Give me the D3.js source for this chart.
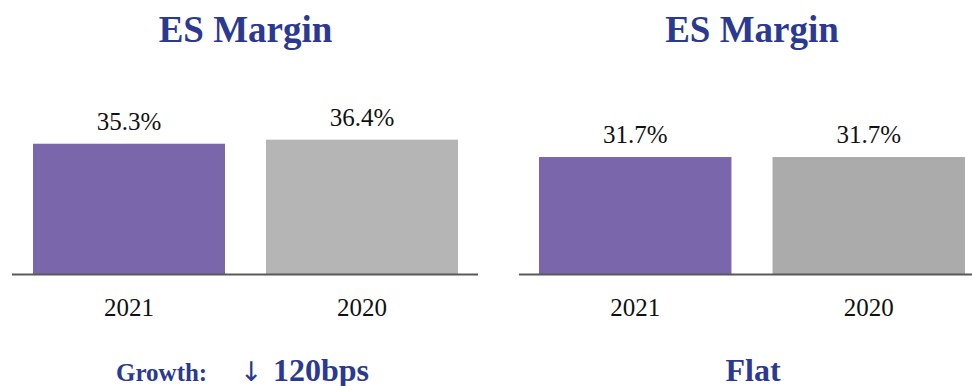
<!DOCTYPE html>
<html>
<head>
<meta charset="utf-8">
<script src="https://cdn.jsdelivr.net/npm/d3@7"></script>
<style>
  body { margin: 0; background: #fff; }
  svg { display: block; }
</style>
</head>
<body>
<svg id="chart" width="972" height="386"></svg>
<script>
// data
const panelTitles = ['ES Margin', 'ES Margin'];
const categories = ['2021', '2020'];
const leftValues = [35.3, 36.4];
const rightValues = [31.7, 31.7];
const footers = ['Growth:', 'Flat'];
const footerArrow = '\u2193';
const footerChange = '120bps';

const TITLE_COLOR = '#2b3990';
const PURPLE = '#7a67ab';
const FONT = 'Liberation Serif';

let svg = d3.select('#chart');

// shared y scale, both panels sit on the same baseline
let y = d3.scaleLinear().domain([0, 40]).range([274, 126.4]);

let panels = [
  { x0: 12, x1: 478, values: leftValues, colors: [PURPLE, '#b5b5b5'], title: panelTitles[0], cx: 245.5 },
  { x0: 519, x1: 972, values: rightValues, colors: [PURPLE, '#ababab'], title: panelTitles[1], cx: 752 }
];

function addText(sel, size, bold, fill) {
  return sel.style('font-family', FONT)
    .attr('font-size', size)
    .attr('font-weight', bold ? 'bold' : 'normal')
    .attr('fill', fill);
}

panels.forEach((p, i) => {
  let g = svg.append('g');

  // inner band scale, bars span roughly 33..458 in the left panel
  let pad = i === 0 ? 21 : 20;
  let x = d3.scaleBand()
    .domain(categories)
    .range([p.x0 + pad, p.x1 - (i === 0 ? 20 : 7)])
    .paddingInner(0.176)
    .paddingOuter(0);

  g.selectAll('rect')
    .data(p.values)
    .join('rect')
    .attr('x', (d, j) => x(categories[j]))
    .attr('y', d => y(d))
    .attr('width', x.bandwidth())
    .attr('height', d => y(0) - y(d))
    .attr('fill', (d, j) => p.colors[j]);

  // value labels
  g.selectAll('text.val')
    .data(p.values)
    .join('text')
    .attr('class', 'val')
    .attr('x', (d, j) => x(categories[j]) + x.bandwidth() / 2)
    .attr('y', d => y(d) - 14)
    .attr('text-anchor', 'middle')
    .call(addText, 25, false, '#111')
    .text(d => d.toFixed(1) + '%');

  // baseline
  g.append('line')
    .attr('x1', p.x0).attr('x2', p.x1)
    .attr('y1', y(0) + 0.5).attr('y2', y(0) + 0.5)
    .attr('stroke', '#595959')
    .attr('stroke-width', 2);

  // category labels
  g.selectAll('text.cat')
    .data(categories)
    .join('text')
    .attr('class', 'cat')
    .attr('x', d => x(d) + x.bandwidth() / 2)
    .attr('y', 316)
    .attr('text-anchor', 'middle')
    .call(addText, 25, false, '#111')
    .text(d => d);

  // title
  g.append('text')
    .attr('x', p.cx)
    .attr('y', 42)
    .attr('text-anchor', 'middle')
    .call(addText, 37, true, TITLE_COLOR)
    .text(p.title);
});

// footer notes
svg.append('text')
  .attr('x', 116).attr('y', 381)
  .call(addText, 25, true, TITLE_COLOR)
  .text(footers[0]);

svg.append('text')
  .attr('x', 240).attr('y', 381)
  .style('font-family', 'DejaVu Sans')
  .attr('font-size', 27)
  .attr('fill', TITLE_COLOR)
  .text(footerArrow);

svg.append('text')
  .attr('x', 273).attr('y', 381)
  .call(addText, 32, true, TITLE_COLOR)
  .text(footerChange);

svg.append('text')
  .attr('x', 753).attr('y', 381)
  .attr('text-anchor', 'middle')
  .call(addText, 32, true, TITLE_COLOR)
  .text(footers[1]);
</script>
</body>
</html>
